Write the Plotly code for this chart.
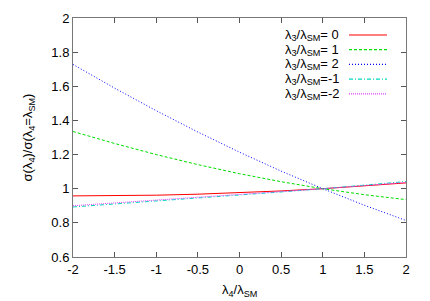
import plotly.graph_objects as go

x_vals = [-2, -1.5, -1, -0.5, 0, 0.5, 1, 1.5, 2]
y_l3_0 = [0.958, 0.959, 0.962, 0.968, 0.976, 0.987, 1.000, 1.016, 1.034]
y_l3_1 = [1.335, 1.265, 1.200, 1.141, 1.088, 1.041, 1.000, 0.965, 0.936]
y_l3_2 = [1.728, 1.589, 1.457, 1.332, 1.214, 1.103, 1.000, 0.903, 0.814]
y_l3_m1 = [0.893, 0.910, 0.926, 0.944, 0.962, 0.981, 1.000, 1.021, 1.042]
y_l3_m2 = [0.900, 0.916, 0.933, 0.949, 0.966, 0.983, 1.000, 1.018, 1.037]

labels = ["λ<sub>3</sub>/λ<sub>SM</sub>= 0", "λ<sub>3</sub>/λ<sub>SM</sub>= 1",
          "λ<sub>3</sub>/λ<sub>SM</sub>= 2", "λ<sub>3</sub>/λ<sub>SM</sub>=-1",
          "λ<sub>3</sub>/λ<sub>SM</sub>=-2"]
series = [y_l3_0, y_l3_1, y_l3_2, y_l3_m1, y_l3_m2]
colors = ["#ff0000", "#00dd00", "#0000ff", "#00d8c0", "#e040ff"]
dashes = ["solid", "3px,2px", "1px,2px", "4px,2px,1px,2px", "1px,1px"]

x_ticks = [-2, -1.5, -1, -0.5, 0, 0.5, 1, 1.5, 2]
y_ticks = [0.6, 0.8, 1, 1.2, 1.4, 1.6, 1.8, 2]

fig = go.Figure()
for ys, c, d, lab in zip(series, colors, dashes, labels):
    fig.add_trace(go.Scatter(x=x_vals, y=ys, mode="lines", name=lab,
                             line=dict(color=c, width=1, dash=d), showlegend=False))

font = dict(family="Liberation Sans, Arial, sans-serif", size=13, color="#000")

# page body has an 8px default margin; compensate
OFF = 8
W, H = 430 - OFF, 301 - OFF
ml, mr, mt, mb = 73 - OFF, 24, 18 - OFF, 44
pw, ph = W - ml - mr, H - mt - mb


def px_x(p):
    return (p - OFF - ml) / pw


def px_y(p):
    return 1 - (p - OFF - mt) / ph


for i, (lab, c, d) in enumerate(zip(labels, colors, dashes)):
    ypix = 35 + i * 14.7
    fig.add_annotation(x=px_x(341), y=px_y(ypix), xref="paper", yref="paper",
                       text=lab, showarrow=False, xanchor="right", yanchor="middle",
                       height=14, font=font)
    fig.add_shape(type="line", xref="paper", yref="paper",
                  x0=px_x(349), x1=px_x(387), y0=px_y(ypix), y1=px_y(ypix),
                  line=dict(color=c, width=1.2, dash=d))

# x axis title placed as annotation (keeps plot area fixed)
fig.add_annotation(x=0.5, y=px_y(290), xref="paper", yref="paper",
                   text="λ<sub>4</sub>/λ<sub>SM</sub>", showarrow=False,
                   xanchor="center", yanchor="middle", font=font)

axis_common = dict(showline=True, linecolor="#777", linewidth=1, mirror="ticks",
                   ticks="inside", ticklen=5, tickcolor="#555", showgrid=False,
                   zeroline=False, tickfont=font, automargin=False)

fig.update_layout(
    width=W, height=H,
    margin=dict(l=ml, r=mr, t=mt, b=mb),
    plot_bgcolor="white", paper_bgcolor="white",
    font=font,
    xaxis=dict(range=[-2, 2], tickvals=x_ticks, ticktext=[f"{v:g}" for v in x_ticks],
               **axis_common),
    yaxis=dict(range=[0.6, 2], tickvals=y_ticks, ticktext=[f"{v:g}" for v in y_ticks],
               title=dict(text="σ(λ<sub>4</sub>)/σ(λ<sub>4</sub>=λ<sub>SM</sub>)", font=font),
               **axis_common),
)

fig.write_html("out.html")
